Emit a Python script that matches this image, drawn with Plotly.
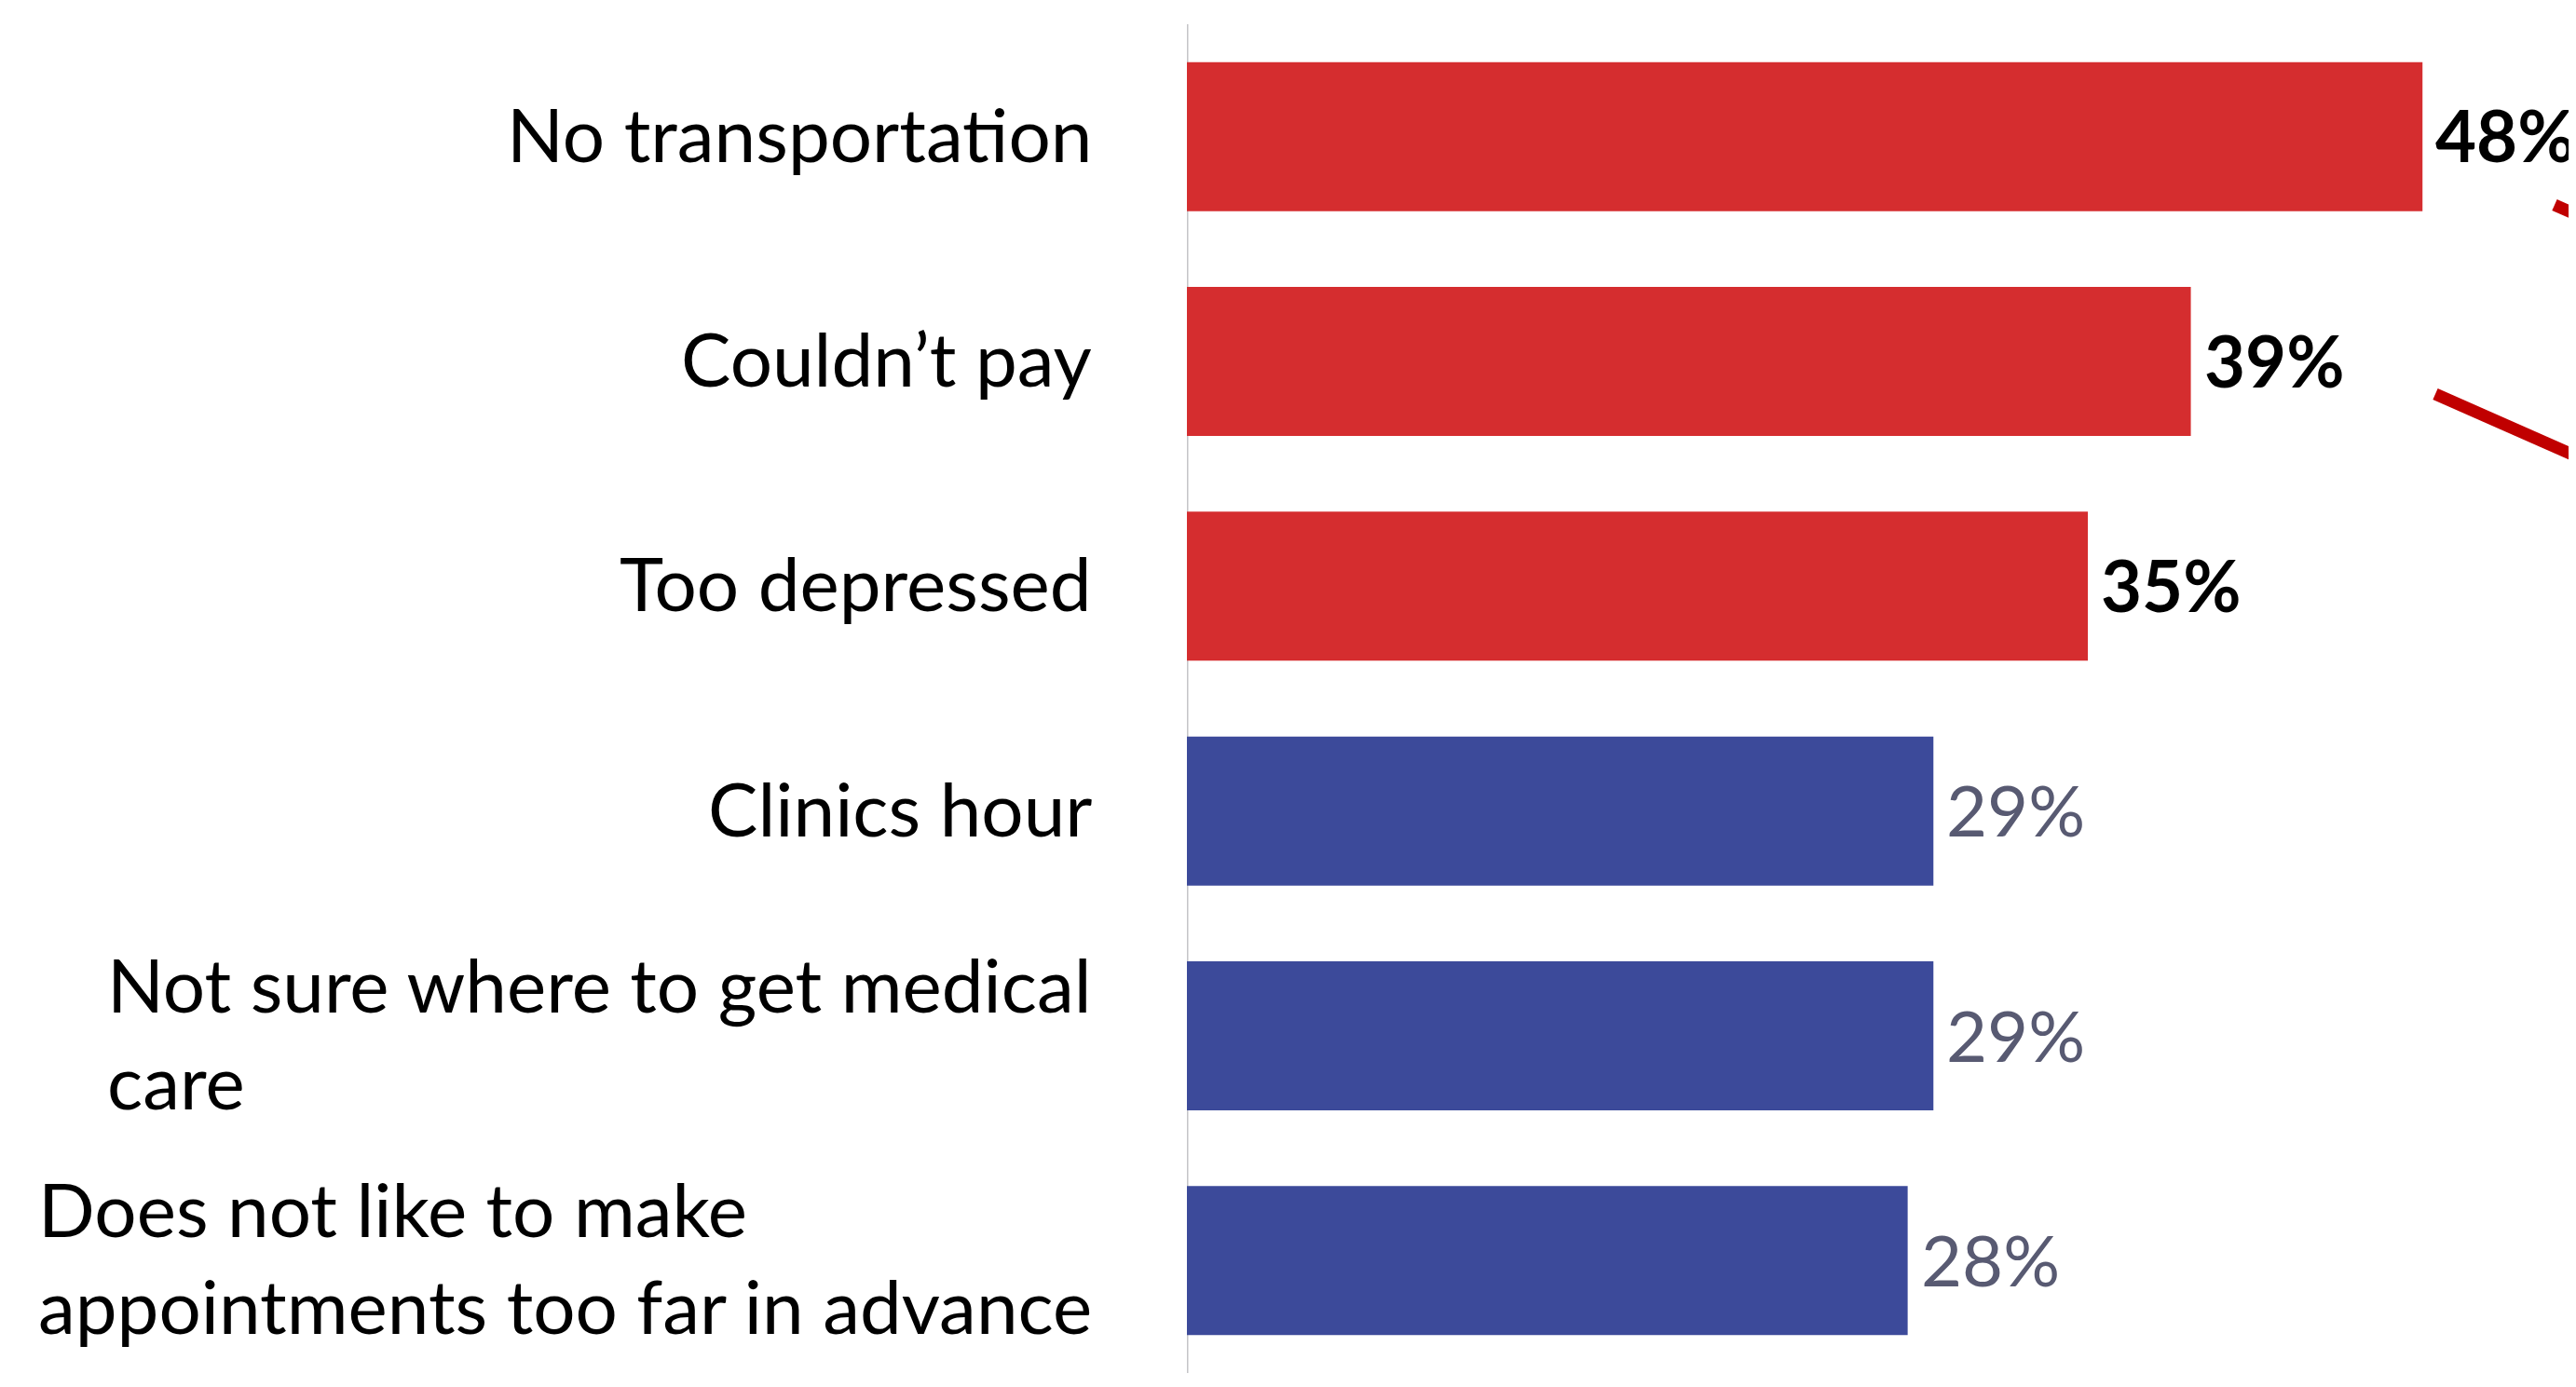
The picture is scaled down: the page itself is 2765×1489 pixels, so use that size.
import plotly.graph_objects as go

# ---- data ----
categories = [
    "No transportation",
    "Couldn’t pay",
    "Too depressed",
    "Clinics hour",
    "Not sure where to get medical<br>care",
    "Does not like to make<br>appointments too far in advance",
]
values = [48, 39, 35, 29, 29, 28]
value_labels = ["48%", "39%", "35%", "29%", "29%", "28%"]
highlight = [True, True, True, False, False, False]

# ---- styles ----
RED = "#D52D2F"
BLUE = "#3C4A9A"
FONT = "Lato"
PAGE_OFFSET = 8  # default body margin of the html page
W, H = 2765 - PAGE_OFFSET, 1489 - PAGE_OFFSET
L, R, T, B = 1274 - PAGE_OFFSET, 0, 26 - PAGE_OFFSET, 15
PX_PER_PCT = 27.63
xmax = (W - L - R) / PX_PER_PCT

colors = [RED if h else BLUE for h in highlight]

fig = go.Figure()
fig.add_trace(go.Bar(
    x=values,
    y=list(range(len(categories))),
    orientation="h",
    marker=dict(color=colors, line=dict(width=0)),
    hoverinfo="skip",
))

annotations = []
for i, (cat, v, lab, h) in enumerate(zip(categories, values, value_labels, highlight)):
    # category label
    annotations.append(dict(
        x=0, xref="paper", y=i, yref="y",
        text=cat, showarrow=False,
        xanchor="right", yanchor="middle", align="left",
        xshift=-100, yshift=4,
        font=dict(family=FONT, size=80, color="#000000"),
    ))
    # value label
    annotations.append(dict(
        x=v, xref="x", y=i, yref="y",
        text=f"<b>{lab}</b>" if h else lab, showarrow=False,
        xanchor="left", yanchor="middle",
        xshift=12, yshift=2,
        font=dict(family=FONT, size=76, color="#000000" if h else "#585A72"),
    ))

pw = W - L - R
ph = H - T - B


def px(xp):
    return (xp - (L + PAGE_OFFSET)) / pw


def py(yp):
    return 1 - (yp - (T + PAGE_OFFSET)) / ph


shapes = [
    # axis line
    dict(type="line", xref="x", yref="paper", x0=0, x1=0, y0=0, y1=1,
         line=dict(color="#C4C4C8", width=3), layer="below"),
    # decorative red connector lines at right edge (cut off by the frame)
    dict(type="line", xref="paper", yref="paper",
         x0=px(2742), y0=py(220), x1=px(2800), y1=py(246),
         line=dict(color="#C00000", width=13)),
    dict(type="line", xref="paper", yref="paper",
         x0=px(2614), y0=py(423), x1=px(2800), y1=py(505),
         line=dict(color="#C00000", width=13)),
]

fig.update_layout(
    width=W, height=H,
    margin=dict(l=L, r=R, t=T, b=B),
    paper_bgcolor="white", plot_bgcolor="white",
    showlegend=False,
    bargap=0.337,
    xaxis=dict(range=[0, xmax], visible=False, fixedrange=True),
    yaxis=dict(range=[len(categories) - 0.5, -0.5], visible=False, fixedrange=True),
    annotations=annotations,
    shapes=shapes,
)

fig.write_html("out.html")
